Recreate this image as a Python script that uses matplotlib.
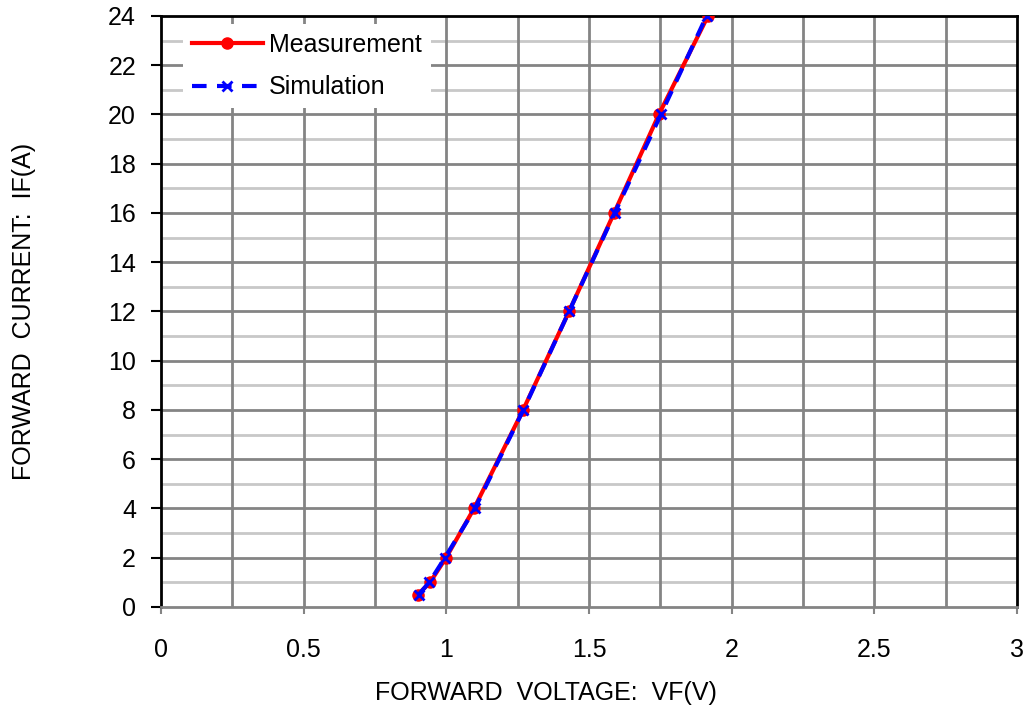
import matplotlib
matplotlib.use("Agg")
import matplotlib.pyplot as plt
import numpy as np

plt.rcParams['font.family'] = ['Liberation Sans', 'DejaVu Sans']

current = [0.5, 1, 2, 4, 8, 12, 16, 20, 24]
v_meas = [0.90, 0.943, 0.999, 1.097, 1.269, 1.43, 1.588, 1.745, 1.917]
v_sim = [0.903, 0.94, 0.995, 1.10, 1.27, 1.43, 1.59, 1.752, 1.912]

x_ticks = [0, 0.5, 1, 1.5, 2, 2.5, 3]
x_tick_labels = ['0', '0.5', '1', '1.5', '2', '2.5', '3']
y_ticks = list(range(0, 25, 2))

FS = 18

fig = plt.figure(figsize=(10.29, 7.13), dpi=100)
ax = fig.add_axes([0.1565, 0.1487, 0.9883 - 0.1565, 0.9776 - 0.1487])

ax.set_xlim(0, 3)
ax.set_ylim(0, 24)

# grids
for xv in np.arange(0.25, 3.0, 0.25):
    ax.axvline(xv, color='#848484', lw=2.0, zorder=0.5)
for yv in range(1, 24, 2):
    ax.axhline(yv, color='#c8c8c8', lw=2.0, zorder=0.4)
for yv in range(2, 24, 2):
    ax.axhline(yv, color='#848484', lw=2.0, zorder=0.5)

ax.plot(v_meas, current, color='#ff0000', lw=3, marker='o', ms=8,
        label='Measurement', zorder=3)
ax.plot(v_sim, current, color='#0000ff', lw=3, ls=(0, (3.5, 2.5)), marker='x',
        ms=7, mew=2, label='Simulation', zorder=4)

ax.set_xticks(x_ticks)
ax.set_xticklabels(x_tick_labels)
ax.set_yticks(y_ticks)
ax.tick_params(axis='x', direction='out', length=5, width=1.5, color='#848484',
               labelsize=FS, pad=17)
ax.tick_params(axis='y', direction='out', length=7, width=1.5, color='black',
               labelsize=FS, pad=11)

for s in ['left', 'top', 'right']:
    ax.spines[s].set_color('black')
    ax.spines[s].set_linewidth(2)
ax.spines['bottom'].set_color('#848484')
ax.spines['bottom'].set_linewidth(2)

ax.set_xlabel('FORWARD  VOLTAGE:  VF(V)', fontsize=FS, labelpad=16)
ax.xaxis.set_label_coords(0.45, -0.1245)
ax.set_ylabel('FORWARD  CURRENT:  IF(A)', fontsize=FS, labelpad=52)

leg = ax.legend(loc='upper left', bbox_to_anchor=(0.0257, 0.9865), fontsize=FS,
                frameon=True, fancybox=False, edgecolor='white', framealpha=1,
                handlelength=2.85, handletextpad=0.25, labelspacing=0.75,
                borderpad=0.35, borderaxespad=0)
leg.get_frame().set_linewidth(0)

fig.savefig('out.png', dpi=100)
